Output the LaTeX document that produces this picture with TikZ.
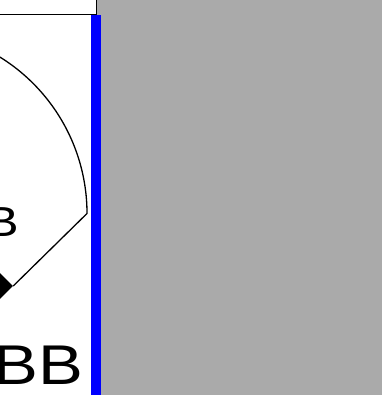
\documentclass[tikz,border=0pt]{standalone}
\usepackage{fontspec}
\setmainfont{Liberation Sans}
\usetikzlibrary{shapes.geometric}
\definecolor{bggray}{HTML}{AAAAAA}
\definecolor{barblue}{HTML}{0000FF}
\tikzset{
  fieldline/.style={draw=black, line width=1.3pt},
  lbl/.style={inner sep=0pt, outer sep=0pt, anchor=base west, text=black},
}
\begin{document}
\begin{tikzpicture}[x=1pt,y=1pt]
\useasboundingbox (0,0) rectangle (382,395);
\fill[bggray] (0,0) rectangle (382,395);
\fill[white] (0,0) rectangle (91,380);
\fill[barblue] (91,0) rectangle (101,379.5);
\draw[fill=white, line width=1pt] (-3,380) rectangle (96,398);
\coordinate (corner) at (87,181.5);
\node[diamond, fill=black, minimum width=28pt, minimum height=28pt, inner sep=0pt] (plate) at (-1,109) {};
\draw[fieldline] (plate.east) -- (corner) arc[start angle=0, end angle=72, radius=184];
\node[lbl] (small) at (-14.9,158) {\fontsize{42}{42}\selectfont\scalebox{1.2}[1]{B}};
\node[lbl] (big) at (-6,10) {\fontsize{56}{56}\selectfont\scalebox{1.2}[1]{BB}};
\end{tikzpicture}
\end{document}
